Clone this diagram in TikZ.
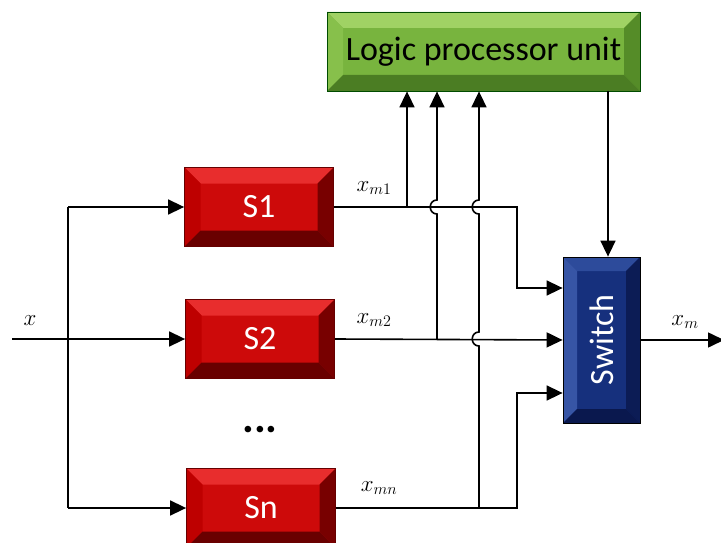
\documentclass[tikz,border=0pt]{standalone}
\usepackage{fix-cm}
\usepackage{fontspec}
\setmainfont{Carlito}
\usetikzlibrary{arrows.meta,calc}

\definecolor{redface}{RGB}{205,10,10}
\definecolor{redtop}{RGB}{232,45,45}
\definecolor{redleft}{RGB}{190,0,0}
\definecolor{redright}{RGB}{120,0,0}
\definecolor{redbot}{RGB}{105,0,0}
\definecolor{grnface}{RGB}{120,180,62}
\definecolor{grntop}{RGB}{160,210,100}
\definecolor{grnleft}{RGB}{135,192,75}
\definecolor{grnright}{RGB}{85,140,40}
\definecolor{grnbot}{RGB}{75,125,35}
\definecolor{bluface}{RGB}{22,48,125}
\definecolor{blutop}{RGB}{45,75,155}
\definecolor{bluleft}{RGB}{55,85,165}
\definecolor{bluright}{RGB}{12,28,85}
\definecolor{blubot}{RGB}{10,24,78}

\tikzset{
  bevelled/.style n args={5}{
    path picture={
      \def\bb{path picture bounding box}
      \fill[#1] (\bb.north west) -- (\bb.north east)
        -- ([xshift=-#5,yshift=-#5]\bb.north east) -- ([xshift=#5,yshift=-#5]\bb.north west) -- cycle;
      \fill[#2] (\bb.north west) -- (\bb.south west)
        -- ([xshift=#5,yshift=#5]\bb.south west) -- ([xshift=#5,yshift=-#5]\bb.north west) -- cycle;
      \fill[#3] (\bb.north east) -- (\bb.south east)
        -- ([xshift=-#5,yshift=#5]\bb.south east) -- ([xshift=-#5,yshift=-#5]\bb.north east) -- cycle;
      \fill[#4] (\bb.south west) -- (\bb.south east)
        -- ([xshift=-#5,yshift=#5]\bb.south east) -- ([xshift=#5,yshift=#5]\bb.south west) -- cycle;
    }},
  blockbase/.style={inner sep=0pt, font=\fontsize{34}{40}\selectfont},
  redbox/.style={blockbase, fill=redface, draw=red!40!black, line width=0.8pt,
    minimum width=149pt, minimum height=79pt, text=white,
    bevelled={redtop}{redleft}{redright}{redbot}{16pt}},
  greenbox/.style={blockbase, fill=grnface, draw=green!30!black, line width=0.8pt,
    minimum width=313pt, minimum height=79pt, text=black,
    bevelled={grntop}{grnleft}{grnright}{grnbot}{16pt}},
  bluebox/.style={blockbase, fill=bluface, draw=black, line width=0.8pt,
    minimum width=77pt, minimum height=166pt, text=white,
    bevelled={blutop}{bluleft}{bluright}{blubot}{14pt}},
  wire/.style={line width=1.6pt, black},
  arr/.style={wire, -{Triangle[length=16pt,width=15pt]}},
  sig/.style={font=\fontsize{23}{26}\selectfont}
}

\begin{document}
\begin{tikzpicture}[x=1pt,y=-1pt]
  \useasboundingbox (0,0) rectangle (721,543);
  \clip (0,0) rectangle (721,543);

  % processing blocks
  \node[redbox] (s1) at (259,207) {S1};
  \node[redbox] (s2) at (260,339) {S2};
  \node[redbox] (sn) at (261,508) {Sn};
  \node[greenbox] (lpu) at (483.5,51.5) {Logic processor unit};
  \node[bluebox] (sw) at (601.5,340) {\rotatebox{90}{Switch}};

  % input distribution
  \coordinate (xin) at (12,339);
  \coordinate (b1) at (68,207);
  \coordinate (bn) at (68,508);
  \draw[arr] (xin) -- (s2.west);
  \draw[wire] (b1) -- (bn);
  \draw[arr] (b1) -- (s1.west);
  \draw[arr] (bn) -- (sn.west);

  % block outputs to the switch
  \coordinate (c1) at (517,207);
  \coordinate (cn) at (517,508);
  \draw[arr] (s1.east) -- (c1) -- (c1 |- 0,288) -- ([yshift=52pt]sw.west);
  \draw[arr] (s2.east) -- (sw.west);
  \draw[arr] (sn.east) -- (cn) -- (cn |- 0,393) -- ([yshift=-53pt]sw.west);

  % taps to the logic processor (with hops over crossing wires)
  \coordinate (j1) at (407,207);
  \coordinate (j2) at (437,339);
  \coordinate (j3) at (479,508);
  \draw[arr] (j1) -- (j1 |- lpu.south);
  \draw[arr] (j2) -- (437,214) .. controls (428,214) and (428,200) .. (437,200)
    -- (j2 |- lpu.south);
  \draw[arr] (j3) -- (479,346) .. controls (470,346) and (470,332) .. (479,332)
    -- (479,214) .. controls (470,214) and (470,200) .. (479,200)
    -- (j3 |- lpu.south);

  % control line and switch output
  \coordinate (lo) at (608,91);
  \draw[arr] (lo) -- (lo |- sw.north);
  \coordinate (xout) at (724,340);
  \draw[arr] (sw.east) -- (xout);

  % signal labels
  \node[sig] (lx) at (30,321) {$x$};
  \node[sig] (l1) at (374,188) {$x_{m1}$};
  \node[sig] (l2) at (374,320) {$x_{m2}$};
  \node[sig] (ln) at (379,488) {$x_{mn}$};
  \node[sig] (lm) at (685,322) {$x_{m}$};
  \node[font=\fontsize{44}{50}\selectfont\bfseries] (dots) at (260,430) {...};
\end{tikzpicture}
\end{document}
